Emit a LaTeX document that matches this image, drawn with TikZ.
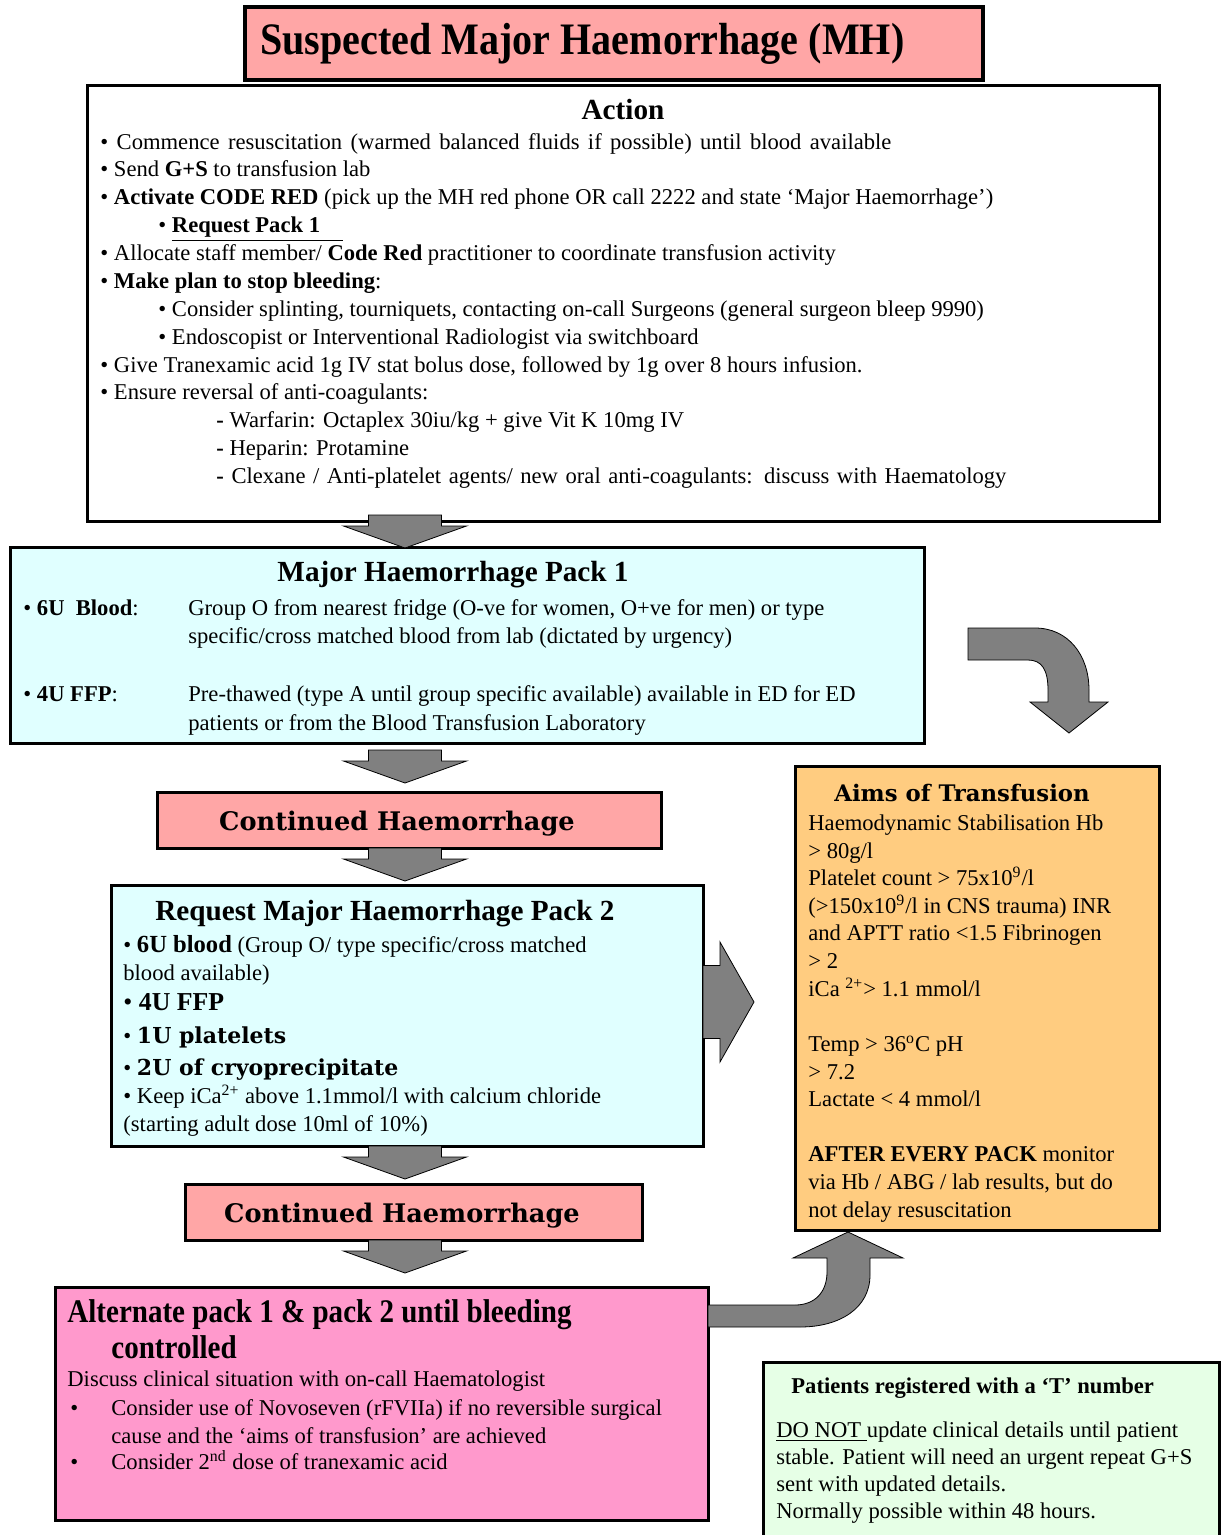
\documentclass[tikz,border=0pt]{standalone}
\usepackage{fontspec}
\usepackage{graphicx}
\setmainfont{Liberation Serif}
\newfontfamily\widefont{DejaVu Serif}
\usetikzlibrary{fit,calc}
\definecolor{salmon}{HTML}{FFA6A6}
\definecolor{icecyan}{HTML}{E0FFFF}
\definecolor{orangey}{HTML}{FFCC80}
\definecolor{pinkbox}{HTML}{FF99CC}
\definecolor{mint}{HTML}{E6FFE6}
\definecolor{arrowgray}{HTML}{808080}
\tikzset{
  box/.style={draw=black, line width=1.5pt, inner sep=0pt, outer sep=0pt},
  txt/.style={inner sep=0pt, anchor=base west, font=\fontsize{11.3}{13.85}\selectfont},
  head/.style={inner sep=0pt, font=\fontsize{14.6}{17}\selectfont\bfseries},
  widehead/.style={inner sep=0pt, font=\fontsize{12.8}{15}\selectfont\widefont\bfseries},
  blk/.style={fill=arrowgray, draw=black, line width=0.4pt, line join=miter},
}
\newcommand\Ln[4][]{\node[txt,#1] (#2) at #3 {#4};}
\newcommand\blockdown[2]{%
  \draw[blk] ($(ax |- #1.south)+(-36.5,#2)$) -- ++(73,0) -- ++(0,11) -- ++(25,0)
    -- ++(-61.5,22) -- ++(-61.5,-22) -- ++(25,0) -- cycle;}
\begin{document}
\begin{tikzpicture}[x=0.5pt,y=-0.5pt]
\useasboundingbox (0,0) rectangle (1221,1535);
\fill[white] (0,0) rectangle (1221,1535);
% boxes
\node[box, line width=2pt, fill=salmon, fit={(245,7) (983,80)}] (title) {};
\node[box, fill=white, fit={(87,86) (1159,521)}] (action) {};
\node[box, fill=icecyan, fit={(10,547) (924,743)}] (pack1) {};
\node[box, fill=salmon, fit={(157,792) (661,848)}] (cont1) {};
\node[box, fill=icecyan, fit={(111,885) (703,1146)}] (pack2) {};
\node[box, fill=salmon, fit={(185,1184) (642,1240)}] (cont2) {};
\node[box, fill=pinkbox, fit={(55,1287) (708,1520)}] (alt) {};
\node[box, fill=orangey, fit={(795,766) (1159,1230)}] (aims) {};
\node[box, fill=mint, fit={(763,1362) (1219,1545)}] (pts) {};
% arrows
\coordinate (ax) at (405,0);
\blockdown{action}{-6}
\blockdown{pack1}{7}
\blockdown{cont1}{0}
\blockdown{pack2}{0}
\blockdown{cont2}{0}
\coordinate (ry) at (0,1002);
\draw[blk] ($(pack2.east |- ry)+(0,-36.5)$) -- ++(17,0) -- ++(0,-23.5) -- ++(34,60)
  -- ++(-34,60) -- ++(0,-23.5) -- ++(-17,0) -- cycle;
\draw[blk] (968,628) -- (1035,628) .. controls (1068,628) and (1089,655) .. (1089,690)
  -- (1089,702) -- (1108,702) -- (1069,733) -- (1030,702) -- (1048,702) -- (1048,690)
  .. controls (1048,670) and (1042,660) .. (1028,660) -- (968,660) -- cycle;
\draw[blk] (alt.east |- 0,1305) -- (795,1305) .. controls (815,1305) and (827,1292) .. (827,1272)
  -- (827,1258) -- (793,1258) -- (848,1232) -- (903,1258) -- (870,1258) -- (870,1275)
  .. controls (870,1308) and (840,1327) .. (800,1327) -- (alt.east |- 0,1327) -- cycle;
% title
\node[inner sep=0pt, anchor=base west, font=\fontsize{22.5}{27}\selectfont\bfseries] (ttl) at (260,55)
  {\scalebox{0.89}[1]{Suspected Major Haemorrhage (MH)}};
% action
\node[head, anchor=base] (acth) at (623,120) {Action};
\Ln{a1}{(100,150)}{\makebox[395.5pt][s]{• Commence resuscitation (warmed balanced fluids if possible) until blood available}}
\Ln{a2}{(100,177)}{• Send \textbf{G+S} to transfusion lab}
\Ln{a3}{(100,205)}{• \textbf{Activate CODE RED} (pick up the MH red phone OR call 2222 and state ‘Major Haemorrhage’)}
\Ln{a4}{(158,233)}{• \underline{\textbf{Request Pack 1}\ \ \ \ }}
\Ln{a5}{(100,261)}{• Allocate staff member/ \textbf{Code Red} practitioner to coordinate transfusion activity}
\Ln{a6}{(100,289)}{• \textbf{Make plan to stop bleeding}:}
\Ln{a7}{(158,317)}{• Consider splinting, tourniquets, contacting on-call Surgeons (general surgeon bleep 9990)}
\Ln{a8}{(158,344)}{• Endoscopist or Interventional Radiologist via switchboard}
\Ln{a9}{(100,372)}{• Give Tranexamic acid 1g IV stat bolus dose, followed by 1g over 8 hours infusion.}
\Ln{a10}{(100,400)}{• Ensure reversal of anti-coagulants:}
\Ln{a11}{(216,427)}{\textbf{-} Warfarin: Octaplex 30iu/kg + give Vit K 10mg IV}
\Ln{a12}{(216,455)}{\textbf{-} Heparin: Protamine}
\Ln{a13}{(216,483)}{\makebox[395pt][s]{\textbf{-} Clexane / Anti-platelet agents/ new oral anti-coagulants: discuss with Haematology}}
% pack 1
\node[head, anchor=base] (p1h) at (453,581) {Major Haemorrhage Pack 1};
\Ln{p1a}{(23,615)}{• \textbf{6U\ \ Blood}:}
\Ln{p1b}{(188,615)}{Group O from nearest fridge (O-ve for women, O+ve for men) or type}
\Ln{p1c}{(188,643)}{specific/cross matched blood from lab (dictated by urgency)}
\Ln{p1d}{(23,701)}{• \textbf{4U FFP}:}
\Ln{p1e}{(188,701)}{Pre-thawed (type A until group specific available) available in ED for ED}
\Ln{p1f}{(188,730)}{patients or from the Blood Transfusion Laboratory}
% continued
\node[widehead, anchor=base] (c1t) at (397,830) {Continued Haemorrhage};
\node[widehead, anchor=base] (c2t) at (402,1222) {Continued Haemorrhage};
% pack 2
\node[head, anchor=base west] (p2h) at (155,920) {Request Major Haemorrhage Pack 2};
\Ln{q1}{(123,952)}{• {\fontsize{12.3}{14}\selectfont\bfseries 6U blood} (Group O/ type specific/cross matched}
\Ln{q2}{(123,980)}{blood available)}
\Ln{q3}{(123,1010)}{{\fontsize{12.9}{14}\selectfont • \bfseries 4U FFP}}
\Ln{q4}{(123,1043)}{• {\fontsize{11}{14}\selectfont\widefont\bfseries 1U platelets}}
\Ln{q5}{(123,1075)}{• {\fontsize{11}{14}\selectfont\widefont\bfseries 2U of cryoprecipitate}}
\Ln{q6}{(123,1103)}{• Keep iCa\textsuperscript{2+} above 1.1mmol/l with calcium chloride}
\Ln{q7}{(123,1131)}{(starting adult dose 10ml of 10\%)}
% alternate
\node[inner sep=0pt, anchor=base west, font=\fontsize{16.5}{20}\selectfont\bfseries] (alth1) at (67,1322)
  {\scalebox{0.88}[1]{Alternate pack 1 \& pack 2 until bleeding}};
\node[inner sep=0pt, anchor=base west, font=\fontsize{16.5}{20}\selectfont\bfseries] (alth2) at (111,1358)
  {\scalebox{0.88}[1]{controlled}};
\Ln{r1}{(67,1386)}{Discuss clinical situation with on-call Haematologist}
\Ln{r2}{(70,1415)}{•}
\Ln{r3}{(111,1415)}{Consider use of Novoseven (rFVIIa) if no reversible surgical}
\Ln{r4}{(111,1443)}{cause and the ‘aims of transfusion’ are achieved}
\Ln{r5}{(70,1469)}{•}
\Ln{r6}{(111,1469)}{Consider 2\textsuperscript{nd} dose of tranexamic acid}
% aims
\node[widehead, font=\fontsize{11.4}{14}\selectfont\widefont\bfseries, anchor=base] (aimh) at (962,801) {Aims of Transfusion};
\Ln{m1}{(808,830)}{Haemodynamic Stabilisation Hb}
\Ln{m2}{(808,858)}{> 80g/l}
\Ln{m3}{(808,885)}{Platelet count > 75x10\textsuperscript{9}/l}
\Ln{m4}{(808,913)}{(>150x10\textsuperscript{9}/l in CNS trauma) INR}
\Ln{m5}{(808,940)}{and APTT ratio <1.5 Fibrinogen}
\Ln{m6}{(808,968)}{> 2}
\Ln{m7}{(808,996)}{iCa \textsuperscript{2+}> 1.1 mmol/l}
\Ln{m8}{(808,1051)}{Temp > 36\textsuperscript{o}C pH}
\Ln{m9}{(808,1079)}{> 7.2}
\Ln{m10}{(808,1106)}{Lactate < 4 mmol/l}
\Ln{m11}{(808,1161)}{\textbf{AFTER EVERY PACK} monitor}
\Ln{m12}{(808,1189)}{via Hb / ABG / lab results, but do}
\Ln{m13}{(808,1217)}{not delay resuscitation}
% patients
\Ln{t0}{(791,1393)}{\textbf{Patients registered with a ‘T’ number}}
\Ln{t1}{(776,1437)}{\underline{DO NOT\ }update clinical details until patient}
\Ln{t2}{(776,1464)}{stable. Patient will need an urgent repeat G+S}
\Ln{t3}{(776,1491)}{sent with updated details.}
\Ln{t4}{(776,1518)}{Normally possible within 48 hours.}
\end{tikzpicture}
\end{document}
